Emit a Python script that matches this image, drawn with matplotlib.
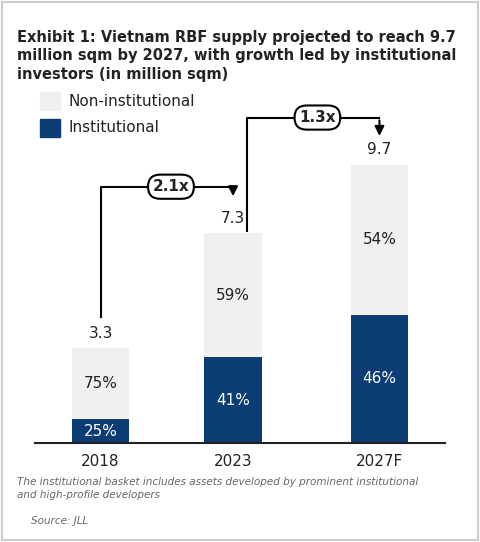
import matplotlib.pyplot as plt
import matplotlib.patches as ptc

years = ["2018", "2023", "2027F"]
totals = [3.3, 7.3, 9.7]
inst_pct = [25, 41, 46]
non_pct = [75, 59, 54]
growth = ["2.1x", "1.3x"]

navy = "#0b3c74"
light = "#f0f0f0"
txt = "#222222"

fig = plt.figure(figsize=(4.8, 5.42), dpi=100)
fig.patches.append(ptc.Rectangle((0.004, 0.004), 0.992, 0.992, transform=fig.transFigure,
                                 fill=False, edgecolor="#cccccc", linewidth=1.5))
ax = fig.add_axes([35/480, 1-443/542, 410/480, 353/542])

x = [0, 0.95, 2]
inst = [t*p/100 for t, p in zip(totals, inst_pct)]
non = [t - i for t, i in zip(totals, inst)]
w = 0.41
ax.bar(x, inst, width=w, color=navy)
ax.bar(x, non, width=w, bottom=inst, color=light)
for xi, t, i, n, ip, np_ in zip(x, totals, inst, non, inst_pct, non_pct):
    ax.text(xi, i/2, f"{ip}%", ha="center", va="center", color="white", fontsize=11)
    ax.text(xi, i + n/2, f"{np_}%", ha="center", va="center", color=txt, fontsize=11)
    ax.text(xi, t + 0.25, f"{t}", ha="center", va="bottom", color=txt, fontsize=11)

ax.set_xlim(-0.47, 2.47)
ax.set_ylim(0, 12.3)
ax.set_xticks(x, years, fontsize=11, color=txt)
ax.tick_params(length=0, pad=8)
ax.set_yticks([])
for s in ["top", "right", "left"]:
    ax.spines[s].set_visible(False)
ax.spines["bottom"].set_color("#222222")
ax.spines["bottom"].set_linewidth(1.5)

# growth arrows
paths = [((0, 4.4), (0.95, 8.93), 8.5), ((1.05, 7.4), (2, 11.34), 10.6)]
for (start, top, tip), lab in zip(paths, growth):
    x0, y0 = start
    x1, yt = top
    ax.plot([x0, x0, x1], [y0, yt, yt], color="black", lw=1.5, solid_joinstyle="round")
    ax.annotate("", xy=(x1, tip), xytext=(x1, yt),
                arrowprops=dict(arrowstyle="-|>", color="black", lw=1.5, mutation_scale=14))
    ax.text((x0 + x1)/2 + 0.03, yt, lab, ha="center", va="center", fontsize=11,
            fontweight="bold", color=txt,
            bbox=dict(boxstyle="round,pad=0.3,rounding_size=0.8", fc="white", ec="black", lw=1.5))

fig.text(0.035, 0.945, "Exhibit 1: Vietnam RBF supply projected to reach 9.7\nmillion sqm by 2027, with growth led by institutional\ninvestors (in million sqm)",
         ha="left", va="top", fontsize=10.5, fontweight="bold", color=txt, linespacing=1.3)

fig.patches.append(ptc.Rectangle((40/480, 1-110/542), 20/480, 18/542, transform=fig.transFigure, color=light))
fig.patches.append(ptc.Rectangle((40/480, 1-137/542), 20/480, 18/542, transform=fig.transFigure, color=navy))
fig.text(68/480, 1-101/542, "Non-institutional", va="center", fontsize=11, color=txt)
fig.text(68/480, 1-128/542, "Institutional", va="center", fontsize=11, color=txt)

fig.text(0.035, 1-477/542, "The institutional basket includes assets developed by prominent institutional\nand high-profile developers",
         ha="left", va="top", fontsize=7.5, style="italic", color="#666666", linespacing=1.4)
fig.text(0.065, 1-516/542, "Source: JLL", ha="left", va="top", fontsize=7.5, style="italic", color="#666666")

fig.savefig("out.png", dpi=100)
